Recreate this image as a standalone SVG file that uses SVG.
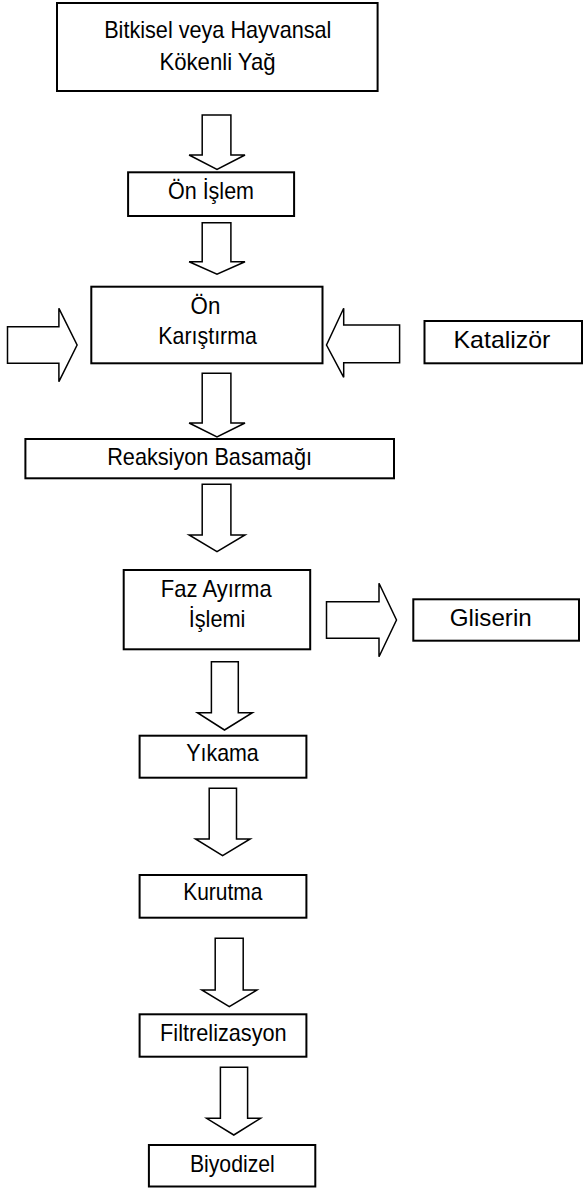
<svg xmlns="http://www.w3.org/2000/svg" width="584" height="1188" viewBox="0 0 584 1188">
<style>
.box{fill:#fff;stroke:#000;stroke-width:2}
.arr{fill:#fff;stroke:#000;stroke-width:1.5;stroke-linejoin:miter}
text{font-family:"Liberation Sans Narrow","Arial Narrow","Liberation Sans",Arial,sans-serif;font-size:24px;fill:#000}
</style>
<rect width="584" height="1188" fill="#fff"/>
<g id="connectors">
<polygon class="arr" points="202.2,115 230.9,115 230.9,155 245,155 217,169.3 189.1,155 202.2,155"/>
<polygon class="arr" points="202.2,222.7 230.9,222.7 230.9,261.7 245,261.7 217,274.3 189.1,261.7 202.2,261.7"/>
<polygon class="arr" points="7.5,326.7 58.9,326.7 58.9,308.3 77.1,345 58.9,381.7 58.9,363.3 7.5,363.3"/>
<polygon class="arr" points="399.6,325 343.7,325 343.7,308.3 326.5,345 343.7,377.3 343.7,362.7 399.6,362.7"/>
<polygon class="arr" points="202.2,373.3 230.9,373.3 230.9,423 245,423 217,437 189.1,423 202.2,423"/>
<polygon class="arr" points="202.2,484.3 230.9,484.3 230.9,535 245,535 217,551.7 189.1,535 202.2,535"/>
<polygon class="arr" points="326.5,601.7 379,601.7 379,583.3 396.5,620 379,656.7 379,638.3 326.5,638.3"/>
<polygon class="arr" points="211.4,661.7 238.3,661.7 238.3,712.7 252.4,712.7 224.5,730 197.4,712.7 211.4,712.7"/>
<polygon class="arr" points="209.2,788.3 236.5,788.3 236.5,839 250.2,839 222.6,855.7 195.5,839 209.2,839"/>
<polygon class="arr" points="215.2,938.3 243.2,938.3 243.2,990 256.9,990 229.3,1006.7 201.8,990 215.2,990"/>
<polygon class="arr" points="220.4,1067.3 247.6,1067.3 247.6,1118.3 260.6,1118.3 233.8,1135 206.6,1118.3 220.4,1118.3"/>
</g>
<g id="n-yag">
<rect class="box" x="57" y="3" width="320.6" height="88"/>
<text x="104.2" y="37.7" textLength="227.2" lengthAdjust="spacingAndGlyphs">Bitkisel veya Hayvansal</text>
<text x="159.4" y="70" textLength="116.2" lengthAdjust="spacingAndGlyphs">Kökenli Yağ</text>
</g>
<g id="n-onislem">
<rect class="box" x="128.1" y="172.3" width="166" height="43.7"/>
<text x="168" y="199.3" textLength="86" lengthAdjust="spacingAndGlyphs">Ön İşlem</text>
</g>
<g id="n-onkaristirma">
<rect class="box" x="91.3" y="286.7" width="231.2" height="76.6"/>
<text x="190.6" y="314" textLength="29.7" lengthAdjust="spacingAndGlyphs">Ön</text>
<text x="158.3" y="344" textLength="98.6" lengthAdjust="spacingAndGlyphs">Karıştırma</text>
</g>
<g id="n-katalizor">
<rect class="box" x="424.5" y="321" width="157.5" height="42.3"/>
<text x="453.5" y="348.3" textLength="96.9" lengthAdjust="spacingAndGlyphs">Katalizör</text>
</g>
<g id="n-reaksiyon">
<rect class="box" x="25.4" y="439" width="368.6" height="39.3"/>
<text x="107.2" y="465" textLength="204.8" lengthAdjust="spacingAndGlyphs">Reaksiyon Basamağı</text>
</g>
<g id="n-faz">
<rect class="box" x="123.7" y="570" width="186.5" height="79.3"/>
<text x="160.8" y="596.7" textLength="110.9" lengthAdjust="spacingAndGlyphs">Faz Ayırma</text>
<text x="188.7" y="626.7" textLength="56.7" lengthAdjust="spacingAndGlyphs">İşlemi</text>
</g>
<g id="n-gliserin">
<rect class="box" x="413.3" y="599.3" width="165.7" height="41.4"/>
<text x="449.8" y="625.7" textLength="81.9" lengthAdjust="spacingAndGlyphs">Gliserin</text>
</g>
<g id="n-yikama">
<rect class="box" x="139.6" y="735.7" width="166.8" height="42"/>
<text x="186.2" y="760.7" textLength="72.6" lengthAdjust="spacingAndGlyphs">Yıkama</text>
</g>
<g id="n-kurutma">
<rect class="box" x="139.6" y="875" width="166.8" height="42.7"/>
<text x="183.2" y="900" textLength="79.3" lengthAdjust="spacingAndGlyphs">Kurutma</text>
</g>
<g id="n-filtre">
<rect class="box" x="139.6" y="1014.3" width="166.8" height="42.4"/>
<text x="160.1" y="1040.7" textLength="126.6" lengthAdjust="spacingAndGlyphs">Filtrelizasyon</text>
</g>
<g id="n-biyodizel">
<rect class="box" x="148.9" y="1145" width="166.4" height="41.5"/>
<text x="189.9" y="1171.7" textLength="84.9" lengthAdjust="spacingAndGlyphs">Biyodizel</text>
</g>
</svg>
